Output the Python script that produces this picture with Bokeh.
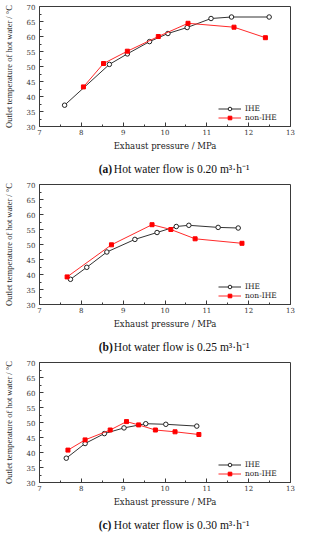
from bokeh.plotting import figure
from bokeh.layouts import column
from bokeh.models import Legend, LegendItem, Range1d, FixedTicker
from bokeh.core.properties import value
from bokeh.embed import file_html
from bokeh.resources import INLINE

# ---- data ----
pressure_ticks = [7, 8, 9, 10, 11, 12, 13]
temp_ticks = [30, 35, 40, 45, 50, 55, 60, 65, 70]

a_ihe_p = [7.60, 8.67, 9.10, 9.63, 10.07, 10.53, 11.10, 11.59, 12.49]
a_ihe_t = [37.1, 50.7, 54.2, 58.3, 61.0, 63.0, 66.0, 66.5, 66.5]
a_non_p = [8.05, 8.53, 9.10, 9.84, 10.55, 11.65, 12.40]
a_non_t = [43.2, 51.0, 55.1, 60.0, 64.4, 63.1, 59.6]

b_ihe_p = [7.74, 8.13, 8.61, 9.28, 9.81, 10.27, 10.57, 11.27, 11.75]
b_ihe_t = [38.4, 42.4, 47.5, 51.7, 54.0, 56.0, 56.4, 55.7, 55.5]
b_non_p = [7.66, 8.72, 9.69, 10.14, 10.72, 11.84]
b_non_t = [39.2, 49.9, 56.6, 55.0, 51.9, 50.4]

c_ihe_p = [7.64, 8.09, 8.55, 9.02, 9.54, 10.02, 10.76]
c_ihe_t = [38.1, 43.0, 46.3, 48.2, 49.6, 49.4, 48.8]
c_non_p = [7.68, 8.09, 8.69, 9.08, 9.37, 9.77, 10.24, 10.81]
c_non_t = [40.8, 44.2, 47.5, 50.3, 49.2, 47.5, 46.9, 46.0]

series_labels = ["IHE", "non-IHE"]
tags = ["(a)", "(b)", "(c)"]
captions = ["Hot water flow is 0.20 m\u00b3\u00b7h\u207b\u00b9",
            "Hot water flow is 0.25 m\u00b3\u00b7h\u207b\u00b9",
            "Hot water flow is 0.30 m\u00b3\u00b7h\u207b\u00b9"]
x_title = "Exhaust pressure / MPa"
y_title = "Outlet temperature of hot water / \u00b0C"

AX = "#3a3a3a"
W = 297


def mids(t):
    return [(u + v) / 2 for u, v in zip(t, t[1:])]


def panel(ihe_p, ihe_t, non_p, non_t):
    p = figure(width=W, height=157, x_range=Range1d(7, 13), y_range=Range1d(30, 70),
               output_backend="svg", toolbar_location=None,
               min_border_left=37, min_border_right=7, min_border_top=6,
               min_border_bottom=31)
    p.grid.visible = False
    p.outline_line_color = AX
    p.outline_line_width = 1
    p.background_fill_color = "white"
    p.border_fill_color = "white"

    p.xaxis.ticker = FixedTicker(ticks=pressure_ticks, minor_ticks=mids(pressure_ticks))
    p.yaxis.ticker = FixedTicker(ticks=temp_ticks, minor_ticks=mids(temp_ticks))
    for ax in (p.xaxis[0], p.yaxis[0]):
        ax.axis_line_color = AX
        ax.major_tick_line_color = AX
        ax.minor_tick_line_color = AX
        ax.major_tick_in = 4
        ax.major_tick_out = 0
        ax.minor_tick_in = 2
        ax.minor_tick_out = 0
        ax.major_label_text_font = "DejaVu Serif"
        ax.major_label_text_font_size = "7px"
        ax.major_label_text_color = "#333"
        ax.axis_label_text_font_style = "normal"
        ax.axis_label_text_color = "#222"
    p.xaxis.major_label_standoff = 2
    p.yaxis.major_label_standoff = 4
    p.xaxis.axis_label = x_title
    p.xaxis.axis_label_text_font = "DejaVu Serif"
    p.xaxis.axis_label_text_font_size = "8.5px"
    p.xaxis.axis_label_standoff = 3
    p.yaxis.axis_label = y_title
    p.yaxis.axis_label_text_font = "Liberation Serif"
    p.yaxis.axis_label_text_font_size = "8.5px"
    p.yaxis.axis_label_standoff = 10

    l1 = p.line(ihe_p, ihe_t, line_color="#333333", line_width=1)
    s1 = p.scatter(ihe_p, ihe_t, marker="circle", size=4.5, line_color="#222222",
                   fill_color="white", line_width=1)
    l2 = p.line(non_p, non_t, line_color="#ff2a2a", line_width=1)
    s2 = p.scatter(non_p, non_t, marker="square", size=4, line_color="#ff0000",
                   fill_color="#ff0000", line_width=1)

    legend = Legend(items=[LegendItem(label=series_labels[0], renderers=[l1, s1]),
                           LegendItem(label=series_labels[1], renderers=[l2, s2])],
                    location=(179, 4), orientation="vertical",
                    border_line_color=None, background_fill_alpha=0,
                    padding=0, margin=0, spacing=0,
                    glyph_width=23, glyph_height=9, label_height=9,
                    label_standoff=4, label_text_font="DejaVu Serif",
                    label_text_font_size="7.5px", label_text_color="#222")
    p.add_layout(legend)
    return p


def caption_row(tag, caption):
    c = figure(width=W, height=21, x_range=Range1d(0, W), y_range=Range1d(0, 21),
               output_backend="svg", toolbar_location=None,
               min_border=0, min_border_left=0, min_border_right=0,
               min_border_top=0, min_border_bottom=0)
    c.axis.visible = False
    c.grid.visible = False
    c.outline_line_color = None
    c.text(x=[70], y=[10], text=[tag], text_font=value("Liberation Serif"),
           text_font_style="bold", text_font_size="11.5px", text_baseline="middle",
           text_color="#111")
    c.text(x=[88], y=[10], text=[caption], text_font=value("Liberation Serif"),
           text_font_size="11.5px", text_baseline="middle", text_color="#111")
    return c


rows = []
for (ip, it, np_, nt), tag, cap in zip(
        [(a_ihe_p, a_ihe_t, a_non_p, a_non_t),
         (b_ihe_p, b_ihe_t, b_non_p, b_non_t),
         (c_ihe_p, c_ihe_t, c_non_p, c_non_t)], tags, captions):
    rows.append(panel(ip, it, np_, nt))
    rows.append(caption_row(tag, cap))

layout = column(*rows, spacing=0)
open("out.html", "w").write(file_html(layout, INLINE))
